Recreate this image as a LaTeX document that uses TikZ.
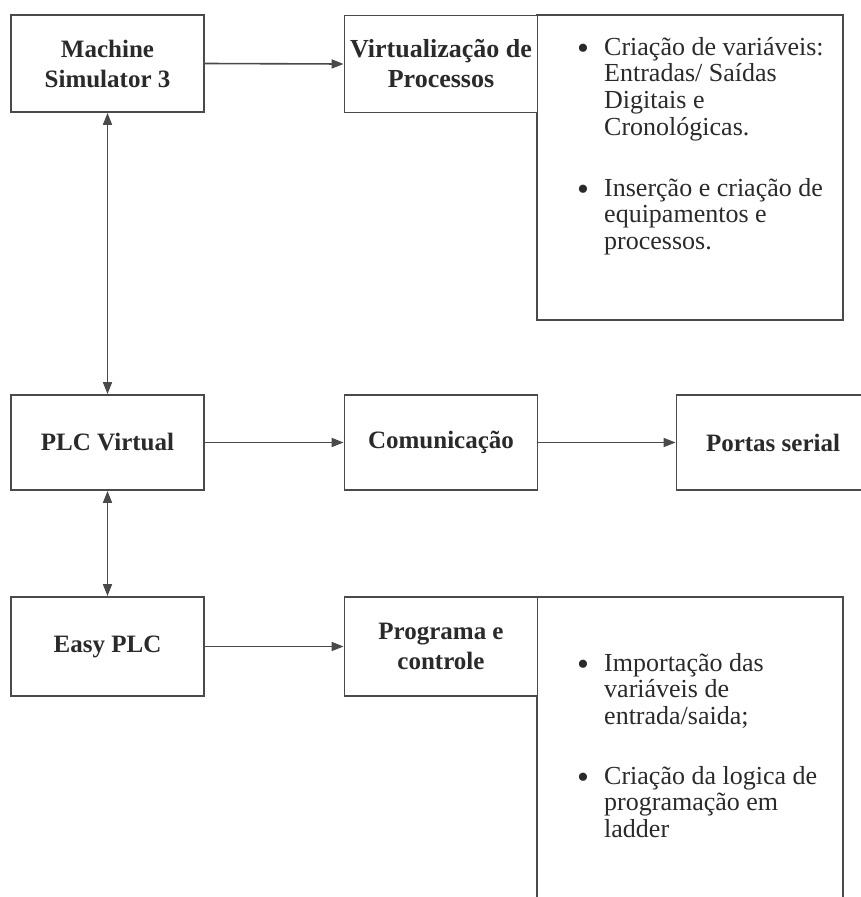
\documentclass[tikz,border=0pt]{standalone}
\usepackage{fontspec}
\setmainfont{Liberation Serif}
\usetikzlibrary{arrows.meta}
\definecolor{edge}{HTML}{4A4A4A}
\definecolor{ink}{HTML}{2A2A2A}
\tikzset{
  box/.style={draw=edge, line width=1.8pt, minimum width=193pt, inner sep=0pt,
    align=center, text=ink, font=\fontsize{25}{30}\selectfont\bfseries},
  panel/.style={draw=edge, line width=1.8pt, inner sep=0pt},
  tipa/.tip={Triangle[length=12pt,width=9pt]},
  conn/.style={draw=edge, line width=1.6pt, -tipa},
  biconn/.style={draw=edge, line width=1.6pt, tipa-tipa},
  item/.style={anchor=base west, inner sep=0pt, align=left, text=ink,
    font=\fontsize{26}{26.8}\selectfont},
  bul/.style={anchor=base, inner sep=0pt, text=ink, font=\fontsize{34}{34}\selectfont}
}
\begin{document}
\begin{tikzpicture}[x=1pt,y=-1pt]
\clip (0,0) rectangle (861,897);
\fill[white] (0,0) rectangle (861,897);
% panels
\node[panel, minimum width=306pt, minimum height=305pt] (p1) at (690,167.5) {};
\node[panel, minimum width=306pt, minimum height=330pt] (p2) at (690,762) {};
% boxes
\node[box, minimum height=97pt] (ms) at (107.5,63.5) {Machine\\Simulator 3};
\node[box, minimum height=97pt, fill=white, font=\fontsize{26}{30}\selectfont\bfseries] (virt) at (441,64) {Virtualização de\\Processos};
\node[box, minimum height=95pt] (plc) at (107.5,442.5) {PLC Virtual};
\node[box, minimum height=95pt] (com) at (441,442.5) {Comunicação};
\node[box, minimum height=95pt] (ps) at (773,442.5) {Portas serial};
\node[box, minimum height=99pt] (easy) at (107.5,646.5) {Easy PLC};
\node[box, minimum height=99pt, fill=white] (prog) at (441,646.5) {Programa e\\controle};
% bullet texts (base anchor = baseline of last line)
\node[bul] (b1) at (583,59) {•};
\node[item] (i1) at (604,135.4) {Criação de variáveis:\\Entradas/ Saídas\\Digitais e\\Cronológicas.};
\node[bul] (b2) at (583,200) {•};
\node[item] (i2) at (604,249.6) {Inserção e criação de\\equipamentos e\\processos.};
\node[bul] (b3) at (583,675) {•};
\node[item] (i3) at (604,724.6) {Importação das\\variáveis de\\entrada/saida;};
\node[bul] (b4) at (583,788) {•};
\node[item] (i4) at (604,837.6) {Criação da logica de\\programação em\\ladder};
% connectors
\draw[conn] (ms.east) -- (virt.west);
\draw[biconn] (ms.south) -- (plc.north);
\draw[conn] (plc.east) -- (com.west);
\draw[conn] (com.east) -- (ps.west);
\draw[biconn] (plc.south) -- (easy.north);
\draw[conn] (easy.east) -- (prog.west);
\end{tikzpicture}
\end{document}
